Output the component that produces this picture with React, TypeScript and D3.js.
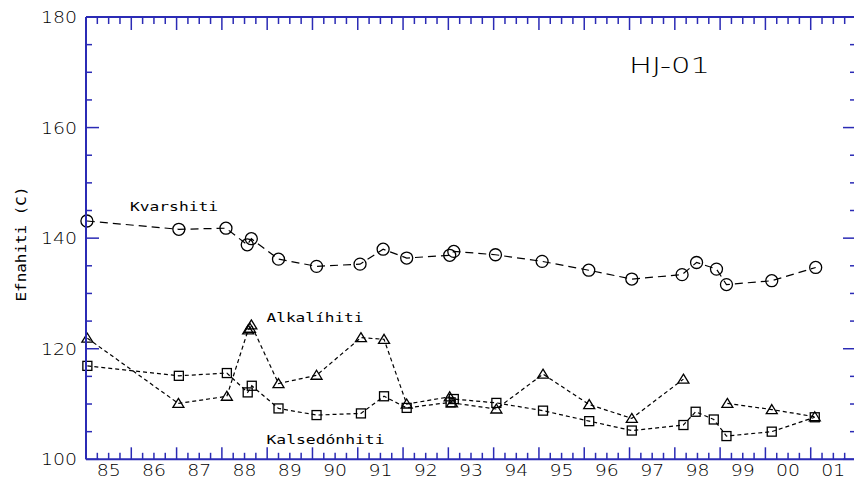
import React from "react";
import * as d3 from "d3";

// ---- data ----
const kvYears = [1985.02, 1987.05, 1988.09, 1988.56, 1988.65, 1989.25, 1990.09, 1991.05, 1991.56, 1992.08, 1993.03, 1993.12, 1994.04, 1995.07, 1996.10, 1997.05, 1998.16, 1998.48, 1998.92, 1999.14, 2000.14, 2001.11];
const kvValues = [143.1, 141.6, 141.8, 138.8, 139.9, 136.2, 134.9, 135.3, 138.0, 136.4, 136.9, 137.6, 137.0, 135.8, 134.2, 132.6, 133.4, 135.6, 134.4, 131.6, 132.3, 134.7];

const alYears = [1985.03, 1987.04, 1988.11, 1988.58, 1988.62, 1988.65, 1989.25, 1990.09, 1991.07, 1991.58, 1992.08, 1993.03, 1993.08, 1994.06, 1995.09, 1996.11, 1997.05, 1998.19, 1998.6, 1999.16, 2000.14, 2001.09];
const alValues: (number | null)[] = [121.9, 110.1, 111.4, 123.4, 123.7, 124.3, 113.7, 115.2, 122.0, 121.7, 110.0, 111.3, 110.2, 109.1, 115.4, 109.9, 107.4, 114.5, null, 110.1, 109.0, 107.7];

const kaYears = [1985.03, 1987.05, 1988.11, 1988.57, 1988.66, 1989.25, 1990.09, 1991.07, 1991.58, 1992.08, 1993.05, 1993.12, 1994.06, 1995.09, 1996.11, 1997.05, 1998.19, 1998.46, 1998.86, 1999.14, 2000.14, 2001.09];
const kaValues = [116.9, 115.1, 115.6, 112.1, 113.3, 109.2, 108.0, 108.3, 111.4, 109.3, 110.3, 110.9, 110.2, 108.8, 106.9, 105.2, 106.2, 108.6, 107.2, 104.2, 105.0, 107.6];

const yearLabels = ["85", "86", "87", "88", "89", "90", "91", "92", "93", "94", "95", "96", "97", "98", "99", "00", "01"];
const yTickValues = [100, 120, 140, 160, 180];

const AXIS = "#2b2bb5";

export default function App() {
  const x = d3.scaleLinear().domain([1985, 2002]).range([86, 856]);
  const y = d3.scaleLinear().domain([100, 180]).range([459.3, 17]);
  const x0 = x(1985), x1 = x(2002), yTop = y(180), yBot = y(100);

  const minorX = d3.range(1985, 2002.001, 0.25);
  const minorY = d3.range(100, 180.001, 5);

  type P = { yr: number; v: number | null };
  const mk = (ys: number[], vs: (number | null)[]): P[] => ys.map((yr, i) => ({ yr, v: vs[i] }));
  const kv = mk(kvYears, kvValues);
  const al = mk(alYears, alValues);
  const ka = mk(kaYears, kaValues);

  const line = d3
    .line<P>()
    .defined((d) => d.v !== null)
    .x((d) => x(d.yr))
    .y((d) => y(d.v as number));

  const tri = (cx: number, cy: number) =>
    `M${cx},${cy - 5} L${cx + 5.5},${cy + 4} L${cx - 5.5},${cy + 4} Z`;

  return (
    <svg
      width={854}
      height={480}
      style={{ position: "absolute", left: 0, top: 0, background: "#fff" }}
    >
      <rect x={0} y={0} width={854} height={480} fill="#fff" />
      {/* data lines */}
      <path d={line(kv) || ""} fill="none" stroke="#000" strokeWidth={1.2} strokeDasharray="8,5" />
      <path d={line(al) || ""} fill="none" stroke="#000" strokeWidth={1.2} strokeDasharray="4,3" />
      <path d={line(ka) || ""} fill="none" stroke="#000" strokeWidth={1.2} strokeDasharray="4,3" />

      {/* markers */}
      {kv.map((d, i) => (
        <circle key={"c" + i} cx={x(d.yr)} cy={y(d.v as number)} r={6} fill="none" stroke="#000" strokeWidth={1.3} />
      ))}
      {al.filter((d) => d.v !== null).map((d, i) => (
        <path key={"t" + i} d={tri(x(d.yr), y(d.v as number))} fill="none" stroke="#000" strokeWidth={1.3} />
      ))}
      {ka.map((d, i) => (
        <rect key={"s" + i} x={x(d.yr) - 4.5} y={y(d.v as number) - 4.5} width={9} height={9} fill="none" stroke="#000" strokeWidth={1.3} />
      ))}

      {/* axes frame */}
      <line x1={x0} x2={x0} y1={yTop} y2={yBot} stroke={AXIS} strokeWidth={2} />
      <line x1={x1} x2={x1} y1={yTop} y2={yBot} stroke={AXIS} strokeWidth={2} />
      <line x1={x0} x2={x1} y1={yTop} y2={yTop} stroke={AXIS} strokeWidth={2} />
      <line x1={x0} x2={x1} y1={yBot} y2={yBot} stroke={AXIS} strokeWidth={2} />

      {/* x ticks */}
      {minorX.map((t, i) => {
        const major = Math.abs(t - Math.round(t)) < 1e-6;
        const xt = x(t);
        return (
          <g key={"xt" + i}>
            <line x1={xt} x2={xt} y1={yTop} y2={yTop + (major ? 13 : 7)} stroke={AXIS} strokeWidth={1.5} />
            <line x1={xt} x2={xt} y1={yBot} y2={yBot - (major ? 12 : 6.5)} stroke={AXIS} strokeWidth={1.5} />
          </g>
        );
      })}
      {/* y ticks */}
      {minorY.map((t, i) => {
        const major = t % 20 === 0;
        const yt = y(t);
        return (
          <g key={"yt" + i}>
            <line x1={x0} x2={x0 + (major ? 13 : 6)} y1={yt} y2={yt} stroke={AXIS} strokeWidth={1.5} />
            <line x1={x1} x2={x1 - (major ? 13 : 6)} y1={yt} y2={yt} stroke={AXIS} strokeWidth={1.5} />
          </g>
        );
      })}

      {/* tick labels */}
      {yearLabels.map((lab, i) => (
        <text
          key={"xl" + i}
          x={x(1985 + i + 0.5)}
          y={476.3}
          textAnchor="middle"
          fontFamily="DejaVu Sans"
          fontWeight={200}
          fontSize={15}
          textLength={24}
          lengthAdjust="spacingAndGlyphs"
          fill="#000"
        >
          {lab}
        </text>
      ))}
      {yTickValues.map((v) => (
        <text
          key={"yl" + v}
          x={77}
          y={y(v) + 6}
          textAnchor="end"
          fontFamily="DejaVu Sans"
          fontWeight={200}
          fontSize={16}
          textLength={36}
          lengthAdjust="spacingAndGlyphs"
          fill="#000"
        >
          {v}
        </text>
      ))}

      {/* axis title */}
      <text
        transform="translate(26,244) rotate(-90)"
        textAnchor="middle"
        fontFamily="DejaVu Sans Mono"
        fontSize={14}
        textLength={115}
        lengthAdjust="spacingAndGlyphs"
        fill="#000"
      >
        Efnahiti (C)
      </text>

      {/* annotations */}
      <text x={629} y={73} fontFamily="DejaVu Sans" fontWeight={200} fontSize={21} textLength={81} lengthAdjust="spacingAndGlyphs" fill="#000">
        HJ-01
      </text>
      <text x={130} y={211} fontFamily="DejaVu Sans Mono" fontSize={13} textLength={88} lengthAdjust="spacingAndGlyphs" fill="#000">
        Kvarshiti
      </text>
      <text x={266.5} y={322} fontFamily="DejaVu Sans Mono" fontSize={13} textLength={97} lengthAdjust="spacingAndGlyphs" fill="#000">
        Alkalíhiti
      </text>
      <text x={266.5} y={444} fontFamily="DejaVu Sans Mono" fontSize={13} textLength={118} lengthAdjust="spacingAndGlyphs" fill="#000">
        Kalsedónhiti
      </text>
    </svg>
  );
}
